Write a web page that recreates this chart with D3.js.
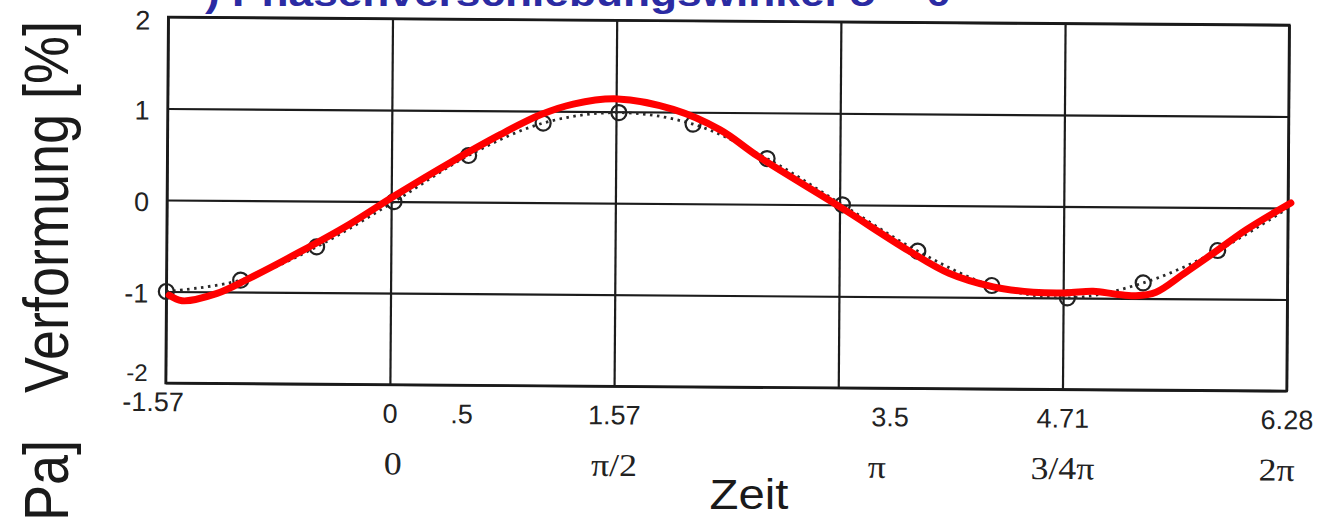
<!DOCTYPE html>
<html>
<head>
<meta charset="utf-8">
<script src="https://cdn.jsdelivr.net/npm/d3@7"></script>
<style>
  html, body { margin: 0; padding: 0; background: #fff; }
  svg { display: block; }
</style>
</head>
<body>
<script>
// Measured strain samples (open circles): time in rad, strain in %
const sampleTimes  = [-1.57, -1.05, -0.52, 0.02, 0.54, 1.06, 1.59, 2.11, 2.63, 3.16, 3.69, 4.21, 4.74, 5.27, 5.79];
const sampleValues = [-1.0, -0.87, -0.5, 0.0, 0.51, 0.87, 0.99, 0.87, 0.5, 0.0, -0.5, -0.87, -1.0, -0.83, -0.47];

// End point of the dotted trace at 2π
const traceEndTime  = 6.28;
const traceEndValue = 0.0;

// Fitted curve (red)
const fitTimes  = [-1.55, -1.46, -1.22, -0.99, -0.64, -0.29, 0.03, 0.41, 0.76, 1.04, 1.27, 1.58, 1.97, 2.30, 2.57, 3.14, 3.63, 3.91, 4.22, 4.50, 4.73, 4.92, 5.08, 5.22, 5.36, 5.55, 5.76, 5.99, 6.30];
const fitValues = [-1.04, -1.10, -1.02, -0.85, -0.56, -0.25, 0.07, 0.43, 0.74, 0.96, 1.08, 1.14, 1.03, 0.81, 0.52, -0.02, -0.50, -0.74, -0.885, -0.94, -0.945, -0.925, -0.955, -0.97, -0.93, -0.73, -0.50, -0.24, 0.055];

// Axes
const yTicks = [-2, -1, 0, 1, 2];
const gridTimes = [-1.57, 0, 1.57, 3.14, 4.71, 6.28];
const timeTickValues = [-1.57, 0, 0.5, 1.57, 3.5, 4.71, 6.28];
const timeTickLabels = ["-1.57", "0", ".5", "1.57", "3.5", "4.71", "6.28"];
const phaseTickValues = [0.02, 1.57, 3.41, 4.71, 6.21];
const phaseTickLabels = ["0", "π/2", "π", "3/4π", "2π"];

const titleText = ") Phasenverschiebungswinkel δ = 0";
const yLabel = "Verformung [%]";
const yLabel2 = "Pa]";
const xLabel = "Zeit";

const W = 1328, H = 518;
const plotLeft = 167, plotRight = 1288, plotTop = 17, plotBottom = 383;
const SX = 1.18; // horizontal stretch of the large lettering

const svg = d3.select("body").append("svg")
  .attr("width", W).attr("height", H)
  .style("background", "#fff");

const x = d3.scaleLinear().domain([-1.57, 6.28]).range([plotLeft, plotRight]);
const y = d3.scaleLinear().domain([-2, 2]).range([plotBottom, plotTop]);

const sans = "'Liberation Sans', Arial, Helvetica, sans-serif";
const serif = "'Liberation Serif', 'Times New Roman', serif";

// Title (blue, bold)
svg.append("g")
  .attr("transform", `translate(205,6) scale(${SX},1)`)
  .append("text")
  .attr("font-family", sans)
  .attr("font-weight", "bold")
  .attr("font-size", 37.5)
  .attr("fill", "#2b2ba3")
  .text(titleText);

// Plot, slightly tilted
const plot = svg.append("g").attr("transform", `rotate(0.41, ${plotLeft}, 200)`);

// Horizontal grid + value labels
const yAxis = plot.append("g")
  .attr("transform", `translate(${plotLeft},0)`)
  .call(d3.axisLeft(y).tickValues(yTicks).tickSize(-(plotRight - plotLeft)).tickPadding(18).tickFormat(d => String(d)));
yAxis.select(".domain").remove();
yAxis.selectAll(".tick line").attr("stroke", "#1c1c1c").attr("stroke-width", 2.2);
yAxis.selectAll(".tick text")
  .attr("font-family", sans).attr("font-size", (d) => d === -2 ? 24 : 27).attr("fill", "#222")
  .attr("dy", (d) => d === -2 ? "-0.1em" : d === 2 ? "0.45em" : "0.4em");

// Vertical grid
const xGrid = plot.append("g")
  .attr("transform", `translate(0,${plotBottom})`)
  .call(d3.axisBottom(x).tickValues(gridTimes).tickSize(-(plotBottom - plotTop)).tickFormat(""));
xGrid.select(".domain").remove();
xGrid.selectAll(".tick line").attr("stroke", "#1c1c1c").attr("stroke-width", 2.2);

// Frame
plot.append("rect")
  .attr("x", plotLeft).attr("y", plotTop)
  .attr("width", plotRight - plotLeft).attr("height", plotBottom - plotTop)
  .attr("fill", "none").attr("stroke", "#1a1a1a").attr("stroke-width", 2.6);

// Time labels (numeric)
const tAxis = plot.append("g")
  .attr("transform", `translate(0,${plotBottom})`)
  .call(d3.axisBottom(x).tickValues(timeTickValues).tickSize(0).tickPadding(19)
    .tickFormat((d, i) => timeTickLabels[i]));
tAxis.select(".domain").remove();
tAxis.selectAll(".tick text")
  .attr("font-family", sans).attr("font-size", 27).attr("fill", "#222")
  .attr("transform", (d, i) => i === 0 ? "translate(-13,-10)" : null);

// Phase labels (multiples of π)
const pAxis = plot.append("g")
  .attr("transform", `translate(0,${plotBottom})`)
  .call(d3.axisBottom(x).tickValues(phaseTickValues).tickSize(0).tickPadding(67)
    .tickFormat((d, i) => phaseTickLabels[i]));
pAxis.select(".domain").remove();
pAxis.selectAll(".tick text")
  .attr("font-family", serif).attr("font-size", 32).attr("fill", "#222")
  .attr("transform", `scale(1.12,1)`);

// Dotted trace through the samples
const tracePts = sampleTimes.map((t, i) => [t, sampleValues[i]]).concat([[traceEndTime, traceEndValue]]);
const line = d3.line().x(d => x(d[0])).y(d => y(d[1])).curve(d3.curveCatmullRom.alpha(0.5));
plot.append("path")
  .attr("d", line(tracePts))
  .attr("fill", "none").attr("stroke", "#2a2a2a")
  .attr("stroke-width", 2.8).attr("stroke-dasharray", "2.5,4.5");

// Sample circles
plot.append("g").selectAll("circle")
  .data(sampleTimes.map((t, i) => [t, sampleValues[i]]))
  .join("circle")
  .attr("cx", d => x(d[0])).attr("cy", d => y(d[1]))
  .attr("r", 7.5)
  .attr("fill", "none").attr("stroke", "#222").attr("stroke-width", 2.2);

// Fitted curve
plot.append("path")
  .attr("d", line(fitTimes.map((t, i) => [t, fitValues[i]])))
  .attr("fill", "none").attr("stroke", "#ff0000")
  .attr("stroke-width", 7).attr("stroke-linecap", "round").attr("stroke-linejoin", "round");

// Axis titles
svg.append("g")
  .attr("transform", `translate(68,207) scale(${SX},1) rotate(-90)`)
  .append("text")
  .attr("text-anchor", "middle")
  .attr("font-family", sans).attr("font-size", 54).attr("fill", "#1a1a1a")
  .text(yLabel);

svg.append("g")
  .attr("transform", `translate(68,440) scale(${SX},1) rotate(-90)`)
  .append("text")
  .attr("text-anchor", "end")
  .attr("font-family", sans).attr("font-size", 54).attr("fill", "#1a1a1a")
  .text(yLabel2);

svg.append("g")
  .attr("transform", `translate(749,509) scale(1.1,1)`)
  .append("text")
  .attr("text-anchor", "middle")
  .attr("font-family", sans).attr("font-size", 43).attr("fill", "#1a1a1a")
  .text(xLabel);
</script>
</body>
</html>
